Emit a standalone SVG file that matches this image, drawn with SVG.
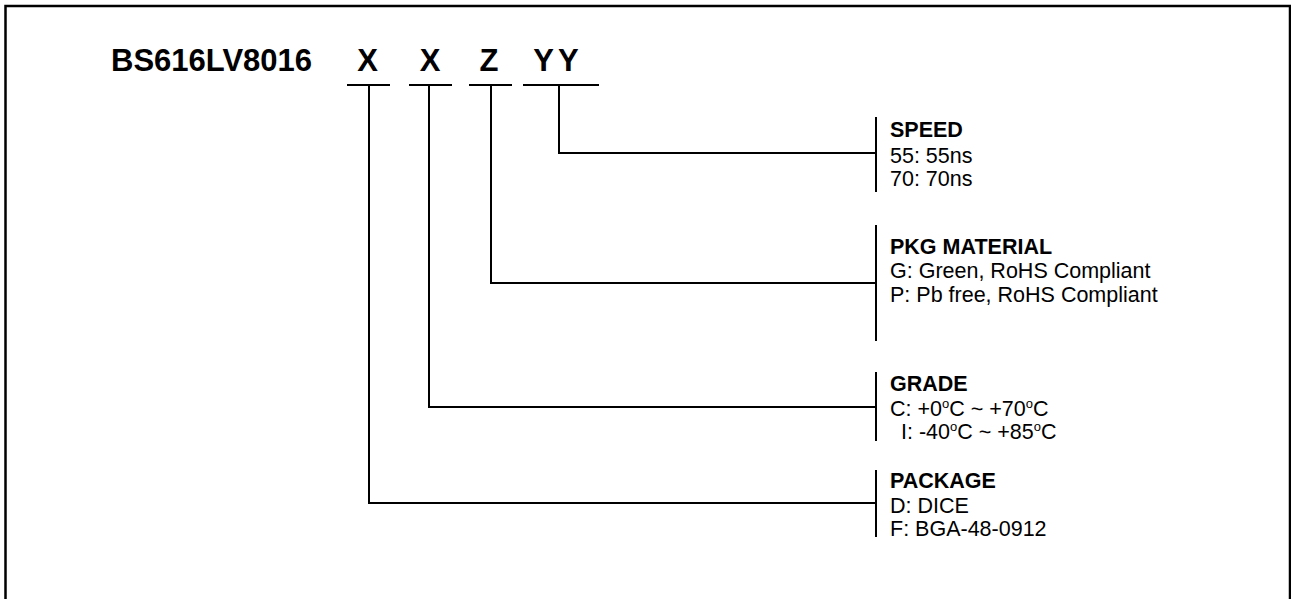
<svg xmlns="http://www.w3.org/2000/svg" width="1291" height="599" viewBox="0 0 1291 599">
<style>
.ln{stroke:#000;stroke-width:2;fill:none}
.title{font-family:"Liberation Sans",Arial,sans-serif;font-weight:bold;font-size:31px;fill:#000}
.hd{font-family:"Liberation Sans",Arial,sans-serif;font-weight:bold;font-size:21.5px;fill:#000}
.tx{font-family:"Liberation Sans",Arial,sans-serif;font-size:21.5px;fill:#000}
.sup{font-size:13px}
</style>
<rect x="0" y="0" width="1291" height="599" fill="#fff"/>
<rect x="5.5" y="6" width="1284.5" height="620" fill="none" stroke="#000" stroke-width="2.5"/>
<g id="title">
<text class="title" x="111" y="71">BS616LV8016</text>
<text class="title" x="367.5" y="71" text-anchor="middle">X</text>
<text class="title" x="430" y="71" text-anchor="middle">X</text>
<text class="title" x="489" y="71" text-anchor="middle">Z</text>
<text class="title" x="558" y="71" text-anchor="middle" letter-spacing="4">YY</text>
</g>
<g id="connectors">
<path class="ln" d="M347 85H390M409 85H452M469 85H512M523 85H599"/>
<path class="ln" d="M559 85V153H876"/>
<path class="ln" d="M491 85V283H876"/>
<path class="ln" d="M429 85V407H876"/>
<path class="ln" d="M369 85V503H876"/>
</g>
<g id="speed">
<path class="ln" d="M876 117V192"/>
<text class="hd" x="890" y="137">SPEED</text>
<text class="tx" x="890" y="163">55: 55ns</text>
<text class="tx" x="890" y="186">70: 70ns</text>
</g>
<g id="pkg-material">
<path class="ln" d="M876 225V341"/>
<text class="hd" x="890" y="254">PKG MATERIAL</text>
<text class="tx" x="890" y="278">G: Green, RoHS Compliant</text>
<text class="tx" x="890" y="302">P: Pb free, RoHS Compliant</text>
</g>
<g id="grade">
<path class="ln" d="M876 372V441"/>
<text class="hd" x="890" y="391">GRADE</text>
<text class="tx" x="890" y="416">C: +0<tspan class="sup" dy="-8">o</tspan><tspan dy="8">C ~ +70</tspan><tspan class="sup" dy="-8">o</tspan><tspan dy="8">C</tspan></text>
<text class="tx" x="901" y="439">I: -40<tspan class="sup" dy="-8">o</tspan><tspan dy="8">C ~ +85</tspan><tspan class="sup" dy="-8">o</tspan><tspan dy="8">C</tspan></text>
</g>
<g id="package">
<path class="ln" d="M876 470V537"/>
<text class="hd" x="890" y="488">PACKAGE</text>
<text class="tx" x="890" y="513">D: DICE</text>
<text class="tx" x="890" y="536">F: BGA-48-0912</text>
</g>
</svg>
